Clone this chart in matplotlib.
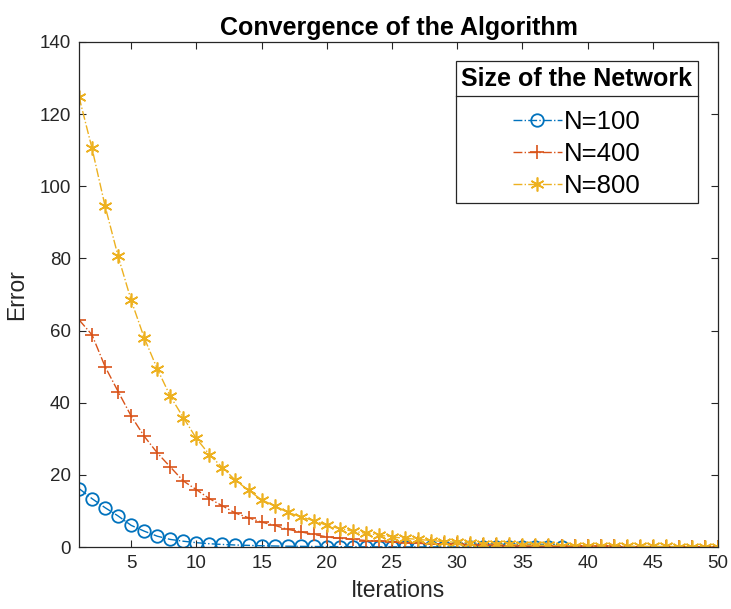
import numpy as np
import matplotlib
matplotlib.use("Agg")
import matplotlib.pyplot as plt
from matplotlib.lines import Line2D

plt.rcParams['font.family'] = ['Liberation Sans', 'DejaVu Sans']

# error per iteration
err_100 = [16.2, 13.4, 10.9, 8.6, 6.0, 4.4, 3.0, 2.1, 1.6, 1.2,
           0.9, 0.7, 0.55, 0.45, 0.35, 0.28, 0.22, 0.18, 0.14, 0.11,
           0.09, 0.07, 0.06, 0.05, 0.04, 0.03, 0.03, 0.02, 0.02, 0.02,
           0.01, 0.01, 0.01, 0.01, 0.01, 0.0, 0.0, 0.0]
err_400 = [63.0, 58.8, 50.0, 43.1, 36.3, 30.7, 26.1, 22.2, 18.3, 15.9,
           13.4, 11.4, 9.4, 8.1, 6.9, 6.0, 4.9, 4.2, 3.5, 2.8,
           2.4, 2.1, 1.8, 1.6, 1.4, 1.2, 1.0, 0.9, 0.8, 0.7,
           0.6, 0.5, 0.45, 0.4, 0.35, 0.3, 0.27, 0.24, 0.21, 0.18,
           0.16, 0.14, 0.12, 0.11, 0.1, 0.09, 0.08, 0.07, 0.06, 0.05]
err_800 = [124.8, 110.5, 94.5, 80.6, 68.4, 58.0, 49.4, 41.8, 35.9, 30.1,
           25.6, 22.0, 18.5, 15.7, 13.1, 11.4, 9.6, 8.4, 7.3, 6.0,
           5.1, 4.4, 3.8, 3.3, 2.8, 2.4, 2.1, 1.8, 1.5, 1.3,
           1.1, 0.95, 0.8, 0.7, 0.6, 0.5, 0.45, 0.4, 0.35, 0.3,
           0.27, 0.24, 0.21, 0.19, 0.17, 0.15, 0.13, 0.12, 0.11, 0.1]
labels = ['N=100', 'N=400', 'N=800']
colors = ['#0072BD', '#D95319', '#EDB120']

fig = plt.figure(figsize=(7.31, 6.09), dpi=100)
ax = fig.add_axes([79/731, 1-547/609, 639/731, 505/609])

ax.plot(np.arange(1, len(err_100)+1), err_100, '-.', color=colors[0], lw=1.0,
        marker='o', ms=9, mfc='none', mew=1.3, label=labels[0])
ax.plot(np.arange(1, len(err_400)+1), err_400, '-.', color=colors[1], lw=1.0,
        marker='+', ms=10, mew=1.2, label=labels[1])
ax.plot(np.arange(1, len(err_800)+1), err_800, '-.', color=colors[2], lw=1.0,
        marker=(6, 2, 0), ms=10, mew=1.2, label=labels[2])

ax.set_xlim(1, 50)
ax.set_ylim(0, 140)
ax.set_xticks(np.arange(5, 51, 5))
ax.set_yticks(np.arange(0, 141, 20))
ax.tick_params(direction='in', top=True, right=True, length=5, width=0.8,
               labelsize=13.5, colors='0.15', pad=6)
for sp in ax.spines.values():
    sp.set_color('0.15')
    sp.set_linewidth(0.9)

ax.set_title('Convergence of the Algorithm', fontsize=18, fontweight='bold', pad=5)
ax.set_xlabel('Iterations', fontsize=16.5, color='0.15', labelpad=5)
ax.set_ylabel('Error', fontsize=16.5, color='0.15', labelpad=8)

leg = ax.legend(title='Size of the Network', loc='upper right',
                bbox_to_anchor=(1-20/639, 1-19/505), borderaxespad=0,
                fontsize=18.5, title_fontproperties={'size': 18, 'weight': 'bold'},
                fancybox=False, edgecolor='0.15', framealpha=1,
                handlelength=1.9, handletextpad=0.1, labelspacing=0.3,
                borderpad=0.22)
leg.get_frame().set_linewidth(0.9)
leg._legend_box.sep = 14  # extra room between title and entries

# MATLAB style line under the legend title
fig.canvas.draw()
r = fig.canvas.get_renderer()
fb = leg.get_frame().get_window_extent(r)
tb = leg.get_title().get_window_extent(r)
ysep = tb.y0 - 5
fig.add_artist(Line2D([fb.x0/fig.bbox.width, fb.x1/fig.bbox.width],
                      [ysep/fig.bbox.height, ysep/fig.bbox.height],
                      color='0.15', lw=0.9))

fig.savefig('out.png', dpi=100)
